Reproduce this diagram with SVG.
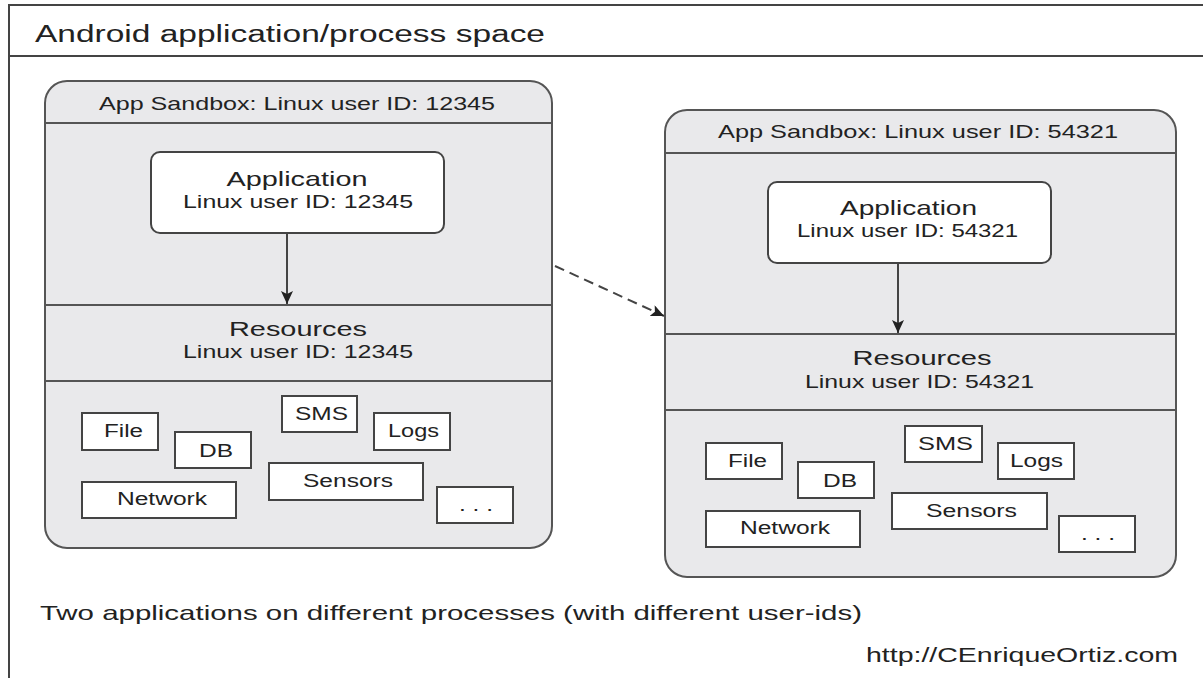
<svg xmlns="http://www.w3.org/2000/svg" width="1203" height="678" viewBox="0 0 1203 678">
<style>
text{font-family:"Liberation Sans",Arial,sans-serif;fill:#222}
.frame{stroke:#444;stroke-width:2;fill:none}
.sb{fill:#e9e9eb;stroke:#555;stroke-width:2}
.sep{stroke:#555;stroke-width:2}
.app{fill:#fff;stroke:#444;stroke-width:2}
.item{fill:#fff;stroke:#444;stroke-width:2}
.t18{font-size:18.5px}
.t20{font-size:21px}
.t17{font-size:17.5px}
.conn{stroke:#444;stroke-width:2;fill:none}
</style>
<defs>
<marker id="ah" markerUnits="userSpaceOnUse" markerWidth="14" markerHeight="12" refX="13" refY="6" orient="auto">
<path d="M0,0 L13,6 L0,12 L3,6 z" fill="#222"/>
</marker>
</defs>
<rect width="1203" height="678" fill="#fff"/>
<g id="frame">
<path class="frame" d="M1203,5 H9 V678 M9,56 H1203"/>
<text x="35" y="42" style="font-size:23px" textLength="510" lengthAdjust="spacingAndGlyphs">Android application/process space</text>
</g>

<g id="sandbox1">
<rect class="sb" x="45" y="81" width="507" height="467" rx="22"/>
<line class="sep" x1="45" y1="123" x2="552" y2="123"/>
<line class="sep" x1="45" y1="305" x2="552" y2="305"/>
<line class="sep" x1="45" y1="381" x2="552" y2="381"/>
<text class="t18" x="297" y="110" text-anchor="middle" textLength="396" lengthAdjust="spacingAndGlyphs">App Sandbox: Linux user ID: 12345</text>
</g>
<g id="app1">
<rect class="app" x="151" y="152" width="293" height="81" rx="9"/>
<text class="t20" x="297" y="186" text-anchor="middle" textLength="141" lengthAdjust="spacingAndGlyphs">Application</text>
<text class="t18" x="298" y="208" text-anchor="middle" textLength="230" lengthAdjust="spacingAndGlyphs">Linux user ID: 12345</text>
</g>
<g id="res1">
<text class="t20" x="298" y="336" text-anchor="middle" textLength="138" lengthAdjust="spacingAndGlyphs">Resources</text>
<text class="t18" x="298" y="358" text-anchor="middle" textLength="230" lengthAdjust="spacingAndGlyphs">Linux user ID: 12345</text>
</g>
<g id="file1"><rect class="item" x="82" y="413" width="76" height="37"/><text class="t17" x="123.5" y="437" text-anchor="middle" textLength="39" lengthAdjust="spacingAndGlyphs">File</text></g>
<g id="db1"><rect class="item" x="175" y="432" width="76" height="36"/><text class="t17" x="216" y="457" text-anchor="middle" textLength="34" lengthAdjust="spacingAndGlyphs">DB</text></g>
<g id="sms1"><rect class="item" x="282" y="396" width="75" height="36"/><text class="t17" x="321.5" y="420" text-anchor="middle" textLength="53" lengthAdjust="spacingAndGlyphs">SMS</text></g>
<g id="logs1"><rect class="item" x="374" y="413" width="76" height="37"/><text class="t17" x="413.5" y="437" text-anchor="middle" textLength="51" lengthAdjust="spacingAndGlyphs">Logs</text></g>
<g id="sensors1"><rect class="item" x="269" y="463" width="154" height="37"/><text class="t17" x="348" y="487" text-anchor="middle" textLength="90" lengthAdjust="spacingAndGlyphs">Sensors</text></g>
<g id="network1"><rect class="item" x="82" y="482" width="154" height="36"/><text class="t17" x="162" y="505" text-anchor="middle" textLength="90" lengthAdjust="spacingAndGlyphs">Network</text></g>
<g id="more1"><rect class="item" x="437" y="487" width="76" height="36"/><text class="t17" x="476" y="511" text-anchor="middle" textLength="34" lengthAdjust="spacingAndGlyphs">. . .</text></g>

<g id="sandbox2">
<rect class="sb" x="665" y="110" width="511" height="467" rx="22"/>
<line class="sep" x1="665" y1="153" x2="1176" y2="153"/>
<line class="sep" x1="665" y1="334" x2="1176" y2="334"/>
<line class="sep" x1="665" y1="410" x2="1176" y2="410"/>
<text class="t18" x="918" y="138" text-anchor="middle" textLength="400" lengthAdjust="spacingAndGlyphs">App Sandbox: Linux user ID: 54321</text>
</g>
<g id="app2">
<rect class="app" x="768" y="182" width="283" height="81" rx="9"/>
<text class="t20" x="908.5" y="215" text-anchor="middle" textLength="137" lengthAdjust="spacingAndGlyphs">Application</text>
<text class="t18" x="907.5" y="237" text-anchor="middle" textLength="221" lengthAdjust="spacingAndGlyphs">Linux user ID: 54321</text>
</g>
<g id="res2">
<text class="t20" x="922" y="365" text-anchor="middle" textLength="139" lengthAdjust="spacingAndGlyphs">Resources</text>
<text class="t18" x="919.5" y="388" text-anchor="middle" textLength="229" lengthAdjust="spacingAndGlyphs">Linux user ID: 54321</text>
</g>
<g id="file2"><rect class="item" x="706" y="443" width="76" height="36"/><text class="t17" x="747.5" y="467" text-anchor="middle" textLength="39" lengthAdjust="spacingAndGlyphs">File</text></g>
<g id="db2"><rect class="item" x="798" y="462" width="76" height="36"/><text class="t17" x="840" y="487" text-anchor="middle" textLength="34" lengthAdjust="spacingAndGlyphs">DB</text></g>
<g id="sms2"><rect class="item" x="905" y="426" width="77" height="36"/><text class="t17" x="945.5" y="450" text-anchor="middle" textLength="55" lengthAdjust="spacingAndGlyphs">SMS</text></g>
<g id="logs2"><rect class="item" x="998" y="443" width="76" height="36"/><text class="t17" x="1036.5" y="467" text-anchor="middle" textLength="53" lengthAdjust="spacingAndGlyphs">Logs</text></g>
<g id="sensors2"><rect class="item" x="892" y="493" width="155" height="36"/><text class="t17" x="971.5" y="517" text-anchor="middle" textLength="91" lengthAdjust="spacingAndGlyphs">Sensors</text></g>
<g id="network2"><rect class="item" x="706" y="511" width="154" height="36"/><text class="t17" x="785" y="534" text-anchor="middle" textLength="90" lengthAdjust="spacingAndGlyphs">Network</text></g>
<g id="more2"><rect class="item" x="1059" y="516" width="76" height="36"/><text class="t17" x="1098" y="540" text-anchor="middle" textLength="34" lengthAdjust="spacingAndGlyphs">. . .</text></g>

<g id="connectors">
<line class="conn" x1="287" y1="233" x2="287" y2="304" marker-end="url(#ah)"/>
<line class="conn" x1="898" y1="263" x2="898" y2="333" marker-end="url(#ah)"/>
<line class="conn" x1="555" y1="266" x2="664" y2="316" stroke-dasharray="10,6" marker-end="url(#ah)"/>
</g>

<g id="captions">
<text class="t20" x="40" y="620" textLength="822" lengthAdjust="spacingAndGlyphs">Two applications on different processes (with different user-ids)</text>
<text class="t20" x="866" y="662" textLength="312" lengthAdjust="spacingAndGlyphs">http://CEnriqueOrtiz.com</text>
</g>
</svg>
